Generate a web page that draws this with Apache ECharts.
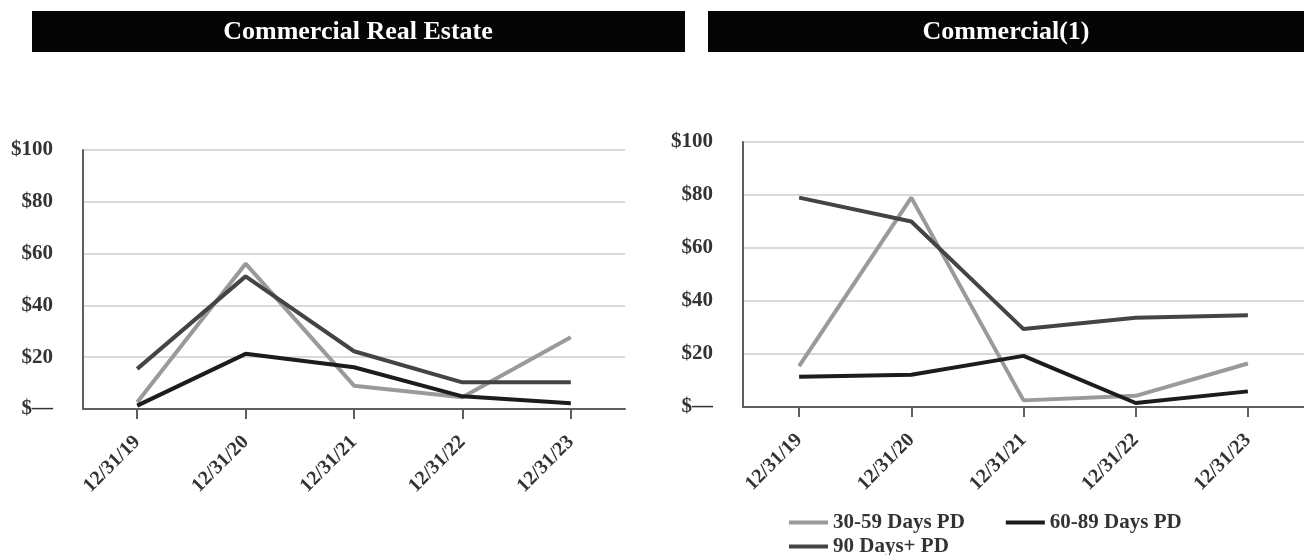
<!DOCTYPE html>
<html>
<head>
<meta charset="utf-8">
<script src="https://cdn.jsdelivr.net/npm/echarts@6/dist/echarts.min.js"></script>
<style>
html,body{margin:0;padding:0;background:#fff;}
#c{width:1304px;height:555px;}
</style>
</head>
<body>
<div id="c"></div>
<script>
const categories = ['12/31/19','12/31/20','12/31/21','12/31/22','12/31/23'];
const yTicks = [0,20,40,60,80,100];
const seriesNames = ['30-59 Days PD','60-89 Days PD','90 Days+ PD'];
const panelTitles = ['Commercial Real Estate','Commercial(1)'];

// Commercial Real Estate
const cre3059 = [2.6, 56.1, 9.0, 4.5, 27.7];
const cre6089 = [1.3, 21.3, 16.1, 4.9, 2.2];
const cre90 = [15.5, 51.2, 22.3, 10.3, 10.3];

// Commercial(1)
const com3059 = [15.4, 79.0, 2.5, 4.2, 16.4];
const com6089 = [11.4, 12.2, 19.3, 1.5, 5.9];
const com90 = [79.0, 70.0, 29.4, 33.7, 34.6];

const colors = ['#9a9a9a','#1c1c1c','#444444'];
const FONT = '"Liberation Serif", "Times New Roman", serif';
const labelColor = '#333';

function xAxis(gi){
  return {
    type:'category', gridIndex:gi, data:categories, boundaryGap:true,
    axisLine:{show:true, lineStyle:{color:'#5f5f5f', width:2}},
    axisTick:{show:true, alignWithLabel:true, length:10, lineStyle:{color:'#5f5f5f', width:2}},
    axisLabel:{rotate:45, margin:30, fontFamily:FONT, fontWeight:'bold', fontSize:20, color:labelColor},
    splitLine:{show:false}
  };
}
function yAxis(gi){
  return {
    type:'value', gridIndex:gi, min:yTicks[0], max:yTicks[yTicks.length-1], interval:20,
    axisLine:{show:true, lineStyle:{color:'#5f5f5f', width:2}},
    axisTick:{show:false},
    axisLabel:{margin:30, fontFamily:FONT, fontWeight:'bold', fontSize:21, color:labelColor,
      formatter:v => v===0 ? '$\u2014' : '$'+v},
    splitLine:{show:true, lineStyle:{color:'#d9d9d9', width:2}}
  };
}
function line(name, data, gi, ci){
  return {
    name, type:'line', xAxisIndex:gi, yAxisIndex:gi, data,
    symbol:'none', smooth:false, silent:true,
    lineStyle:{color:colors[ci], width:4, cap:'butt'},
    itemStyle:{color:colors[ci]}
  };
}
const legendText = {fontFamily:FONT, fontWeight:'bold', fontSize:21, color:labelColor};

const chart = echarts.init(document.getElementById('c'), null, {renderer:'canvas'});
chart.setOption({
  animation:false,
  backgroundColor:'#fff',
  graphic:[
    {type:'rect', shape:{x:32,y:11,width:653,height:41}, style:{fill:'#050505'}},
    {type:'text', x:358, y:32, style:{text:panelTitles[0], fill:'#fff', font:'bold 26px '+FONT, textAlign:'center', textVerticalAlign:'middle'}},
    {type:'rect', shape:{x:708,y:11,width:600,height:41}, style:{fill:'#050505'}},
    {type:'text', x:1006, y:32, style:{text:panelTitles[1], fill:'#fff', font:'bold 26px '+FONT, textAlign:'center', textVerticalAlign:'middle'}}
  ],
  grid:[
    {left:83, right:679, top:150, bottom:146},
    {left:743, right:-7, top:142, bottom:148}
  ],
  xAxis:[xAxis(0), xAxis(1)],
  yAxis:[yAxis(0), yAxis(1)],
  legend:[
    {data:[seriesNames[0], seriesNames[1]], left:789, top:512, padding:0, itemGap:41, itemWidth:39, itemHeight:4, icon:'rect',
     textStyle:legendText, selectedMode:false},
    {data:[seriesNames[2]], left:789, top:536, padding:0, itemWidth:39, itemHeight:4, icon:'rect',
     textStyle:legendText, selectedMode:false}
  ],
  series:[
    line(seriesNames[0], cre3059, 0, 0),
    line(seriesNames[1], cre6089, 0, 1),
    line(seriesNames[2], cre90, 0, 2),
    line(seriesNames[0], com3059, 1, 0),
    line(seriesNames[1], com6089, 1, 1),
    line(seriesNames[2], com90, 1, 2)
  ]
});
</script>
</body>
</html>
